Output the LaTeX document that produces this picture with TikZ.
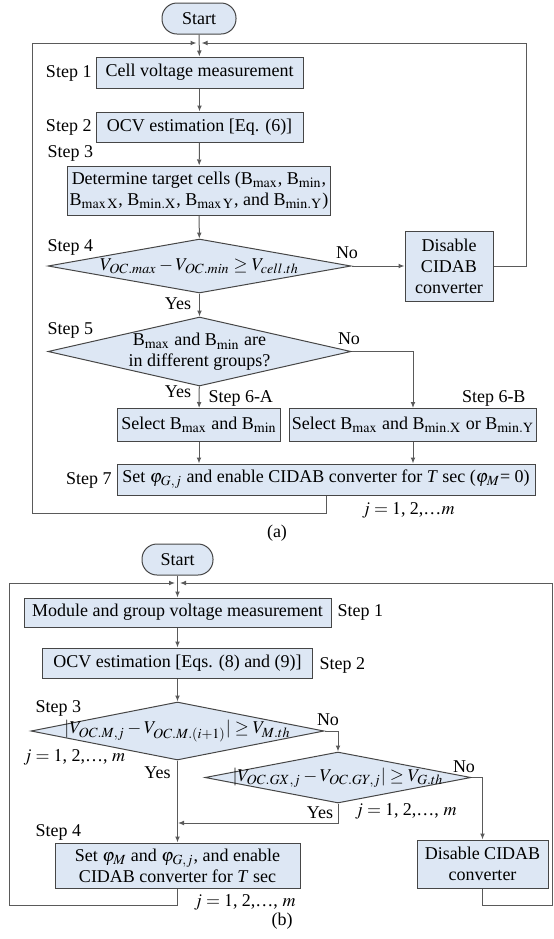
\documentclass[tikz,border=0pt]{standalone}
\usepackage{mathptmx}
\usepackage{fontspec}
\setmainfont{Liberation Serif}
\usetikzlibrary{shapes.geometric,arrows.meta}
\definecolor{boxblue}{RGB}{221,231,244}
\definecolor{edgegray}{RGB}{70,70,70}
\definecolor{linegray}{RGB}{90,90,90}

\begin{document}
\begin{tikzpicture}[x=0.5pt,y=-0.5pt,line width=0.5pt,
  font=\fontsize{9}{10.5}\selectfont,
  >={Latex[length=3pt,width=2.4pt]},
  box/.style={draw=edgegray,fill=boxblue,inner sep=1pt,align=center},
  term/.style={box,rounded corners=7.5pt},
  dec/.style={box,diamond,inner sep=0pt},
  lbl/.style={inner sep=0pt},
  flow/.style={->,draw=linegray}]

\useasboundingbox (0,0) rectangle (553,939);

\coordinate (inLA) at (196.5,43);
\coordinate (inRA) at (201.5,43);
\coordinate (loopLA) at (32,513);
\coordinate (loopRA) at (526,43);

\coordinate (inLB) at (175,583);
\coordinate (inRB) at (180,583);
\coordinate (loopLB) at (9,905);
\coordinate (loopRB) at (552,905);
\coordinate (joinB) at (178,823);

% (a)
\node[term, minimum width=37pt, minimum height=15.5pt] (startA) at (199,18.5) {Start};
\node[box, minimum width=103.5pt, minimum height=15.5pt] (measA) at (199.5,72.5) {Cell voltage measurement};
\node[box, minimum width=103.5pt, minimum height=15pt] (ocvA) at (199.5,127) {OCV estimation [Eq. (6)]};
\node[box, minimum width=131pt, minimum height=24.5pt] (targetA) at (199,190.5)
  {Determine target cells (B$_{\mathrm{max}}$, B$_{\mathrm{min}}$,\\
   B$_{\mathrm{max\,X}}$, B$_{\mathrm{min.X}}$, B$_{\mathrm{max\,Y}}$, and B$_{\mathrm{min.Y}}$)};
\node[dec, minimum width=151.5pt, minimum height=27pt] (chkA) at (199.5,266) {};
\node (chkAtxt) at (199.5,266) {$V_{OC.max} - V_{OC.min} \geq V_{cell.th}$};
\node[box, minimum width=44pt, minimum height=35pt] (offA) at (449,266) {Disable\\CIDAB\\converter};
\node[dec, minimum width=151.5pt, minimum height=34.5pt] (grpA) at (199.5,351.5) {};
\node[align=center] (grpAtxt) at (199.5,352) {B$_{\mathrm{max}}$ and B$_{\mathrm{min}}$\ are\\in different groups?};
\node[box, minimum width=81.5pt, minimum height=16.5pt] (selA) at (199,425) {Select B$_{\mathrm{max}}$ and B$_{\mathrm{min}}$};
\node[box, minimum width=122pt, minimum height=16.5pt] (selB) at (413,425) {Select B$_{\mathrm{max}}$ and B$_{\mathrm{min.X}}$ or B$_{\mathrm{min.Y}}$};
\node[box, minimum width=209pt, minimum height=15.5pt] (setA) at (326,479.5)
  {Set $\varphi_{G,j}$ and enable CIDAB converter for \textit{T} sec ($\varphi_M$= 0)};

\node[lbl, anchor=east] (st1A) at (92,73) {Step 1};
\node[lbl, anchor=east] (st2A) at (92,127) {Step 2};
\node[lbl, anchor=west] (st3A) at (47,153) {Step 3};
\node[lbl, anchor=west] (st4A) at (47,247) {Step 4};
\node[lbl, anchor=west] (st5A) at (47,330) {Step 5};
\node[lbl, anchor=west] (st6aA) at (208,398) {Step 6-A};
\node[lbl, anchor=east] (st6bA) at (526,398) {Step 6-B};
\node[lbl, anchor=east] (st7A) at (112,480) {Step 7};
\node (noA1) at (347,253) {No};
\node (yesA1) at (178,304) {Yes};
\node (noA2) at (349,339) {No};
\node (yesA2) at (178,392) {Yes};
\node[lbl, anchor=east] (jA) at (455,510) {$j = 1$, 2,\ldots$m$};
\node (capA) at (277,533) {(a)};

\draw[flow] (startA) -- (measA);
\draw[flow] (measA) -- (ocvA);
\draw[flow] (ocvA) -- (targetA);
\draw[flow] (targetA) -- (chkA);
\draw[flow] (chkA) -- (grpA);
\draw[flow] (chkA.east) -- (offA.west);
\draw[flow] (offA.east) -| (loopRA) -- (inRA);
\draw[flow] (grpA) -- (selA);
\draw[flow] (grpA.east) -| (selB.north);
\draw[flow] (selA) -- (selA |- setA.north);
\draw[flow] (selB) -- (selB |- setA.north);
\draw[flow] (setA.south) |- (loopLA) |- (inLA);

% (b)
\node[term, minimum width=35.5pt, minimum height=15.5pt] (startB) at (177.5,559.5) {Start};
\node[box, minimum width=153.5pt, minimum height=14.5pt] (measB) at (177.5,612.5) {Module and group voltage measurement};
\node[box, minimum width=135pt, minimum height=15pt] (ocvB) at (177.5,663) {OCV estimation [Eqs. (8) and (9)]};
\node[dec, minimum width=146.5pt, minimum height=29pt] (modB) at (177.5,731) {};
\node (modBtxt) at (177.5,731) {$|V_{OC.M,j} - V_{OC.M.(i+1)}| \geq V_{M.th}$};
\node[dec, minimum width=133pt, minimum height=25.5pt] (grpB) at (338,777.5) {};
\node (grpBtxt) at (338,777.5) {$|V_{OC.GX,j} - V_{OC.GY,j}| \geq V_{G.th}$};
\node[box, minimum width=122.5pt, minimum height=22.5pt] (setB) at (177.5,865.5)
  {Set $\varphi_M$ and $\varphi_{G,j}$, and enable\\CIDAB converter for \textit{T} sec};
\node[box, minimum width=65.5pt, minimum height=24pt] (offB) at (482.5,864) {Disable CIDAB\\converter};

\node[lbl, anchor=west] (st1B) at (337,612) {Step 1};
\node[lbl, anchor=west] (st2B) at (319,665) {Step 2};
\node[lbl, anchor=west] (st3B) at (35,708) {Step 3};
\node[lbl, anchor=west] (st4B) at (35,832) {Step 4};
\node (noB1) at (328,720) {No};
\node (yesB1) at (157.5,773) {Yes};
\node (noB2) at (464,767) {No};
\node (yesB2) at (320,813) {Yes};
\node[lbl, anchor=west] (jB1) at (23,757) {$j = 1$, 2,\ldots, $m$};
\node[lbl, anchor=east] (jB2) at (457,811) {$j = 1$, 2,\ldots, $m$};
\node[lbl, anchor=east] (jB3) at (296,902) {$j = 1$, 2,\ldots, $m$};
\node (capB) at (282,921) {(b)};

\draw[flow] (startB) -- (measB);
\draw[flow] (measB) -- (ocvB);
\draw[flow] (ocvB) -- (modB);
\draw[flow] (modB) -- (setB);
\draw[flow] (modB.east) -| (grpB.north);
\draw[flow] (grpB.south) |- (joinB);
\draw[flow] (grpB.east) -| (offB.north);
\draw[flow] (offB.south) |- (loopRB) |- (inRB);
\draw[flow] (setB.south) |- (loopLB) |- (inLB);

\end{tikzpicture}
\end{document}
